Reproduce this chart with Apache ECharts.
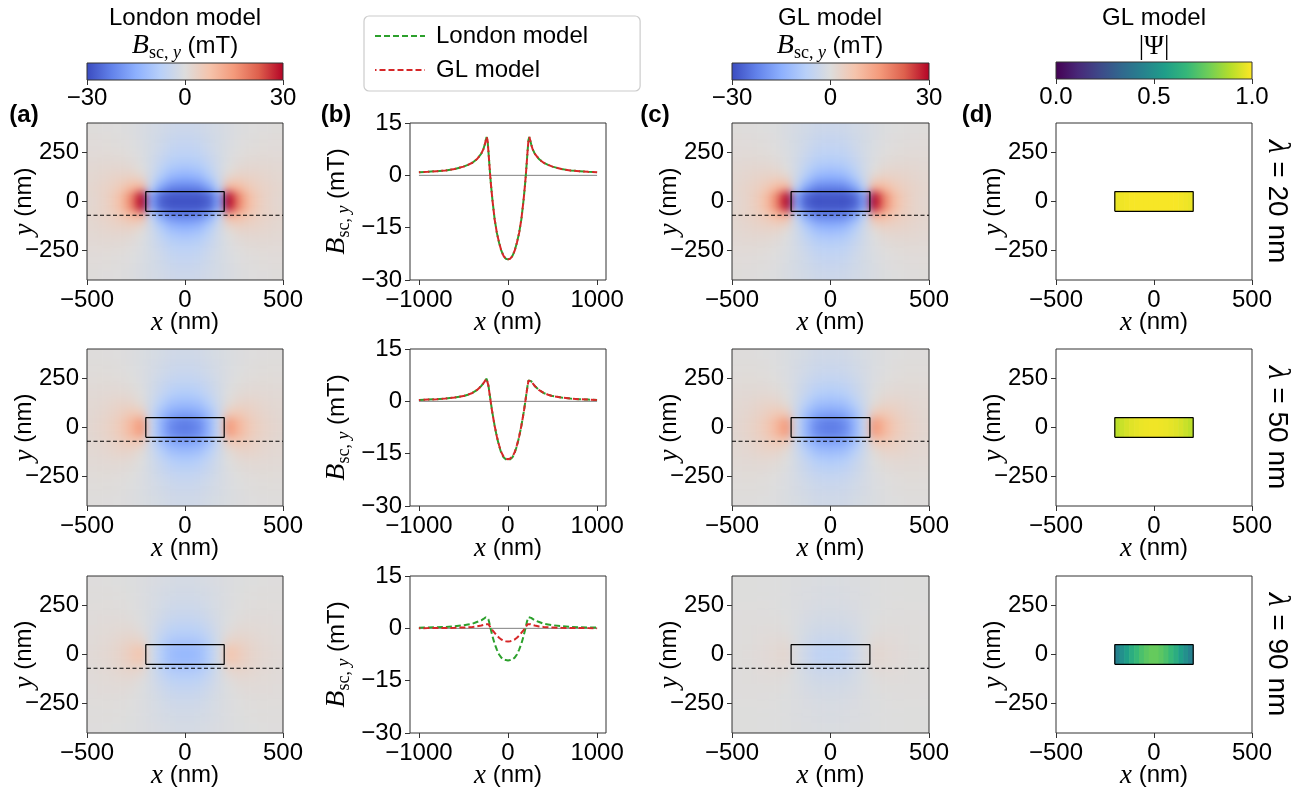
<!DOCTYPE html>
<html>
<head>
<meta charset="utf-8">
<script src="https://cdn.jsdelivr.net/npm/echarts@6/dist/echarts.min.js"></script>
<style>
  html, body { margin: 0; padding: 0; background: #fff; }
  #chart { width: 1305px; height: 791px; }
  /* the field maps live on their own layer (zlevel 1): soften the 50 nm cells
     into a continuous map and keep it inside the six plot frames */
  #chart canvas[data-zr-dom-id="zr_1"] {
    filter: blur(4px);
    clip-path: path('M87 123h196v157h-196Z M732 123h197v157h-197Z M87 349h196v157h-196Z M732 349h197v157h-197Z M87 576h196v157h-196Z M732 576h197v157h-197Z');
  }
</style>
</head>
<body>
<div id="chart"></div>
<script>
// ---------------- data ----------------
const lambdas = [20, 50, 90];             // penetration depth, nm
const stripX = [-200, 200];               // strip cross-section, nm
const stripY = [-50, 50];
const cutY = -70;                         // height of the line cut, nm

// Screening field B_sc,y (mT) on a 50 nm grid. The field is even in x and y,
// so one quadrant is listed: rows follow yCenters, columns follow xCenters.
const xCenters = [25, 75, 125, 175, 225, 275, 325, 375, 425, 475];
const yCenters = [25, 75, 125, 175, 225, 275, 325, 375];
const cellSize = 50;

const londonB20 = [
  [-29, -29, -27, -17, 30, 18, 9, 5, 3, 2],
  [-22, -21, -16, -6, 10, 9, 6, 4, 3, 2.2],
  [-15, -13.5, -9, -3, 2.5, 4, 3.5, 3, 2.3, 1.8],
  [-10, -9, -6, -2.5, 0, 1.5, 2, 2, 1.8, 1.5],
  [-7, -6.5, -4.5, -2.5, -0.5, 0.5, 1, 1.2, 1.2, 1.1],
  [-5.5, -5, -3.5, -2, -0.8, 0, 0.5, 0.7, 0.8, 0.8],
  [-4.5, -4, -3, -2, -1, -0.3, 0.2, 0.4, 0.5, 0.6],
  [-3.5, -3.2, -2.5, -1.8, -1, -0.4, 0, 0.2, 0.3, 0.4]
];
const londonB50 = [
  [-23, -21, -14, -4, 15, 10, 6, 4, 2.8, 2],
  [-17, -15.5, -11, -4, 5, 6, 4.5, 3.2, 2.3, 1.7],
  [-12, -11, -7.5, -3, 1, 2.8, 3, 2.5, 1.9, 1.5],
  [-8.5, -7.5, -5, -2.5, 0, 1.2, 1.6, 1.6, 1.4, 1.2],
  [-6, -5.5, -4, -2.2, -0.5, 0.4, 0.8, 1, 1, 0.9],
  [-4.5, -4, -3, -1.8, -0.7, 0, 0.4, 0.6, 0.7, 0.6],
  [-3.5, -3.2, -2.5, -1.6, -0.8, -0.2, 0.2, 0.4, 0.4, 0.45],
  [-2.8, -2.6, -2, -1.4, -0.8, -0.3, 0, 0.2, 0.3, 0.3]
];
const londonB90 = [
  [-13, -12, -8, -2, 7, 5, 3.2, 2.2, 1.5, 1.1],
  [-9.5, -8.8, -6, -2, 2.5, 3, 2.4, 1.7, 1.2, 0.9],
  [-7, -6.5, -4.5, -1.8, 0.5, 1.5, 1.6, 1.3, 1, 0.8],
  [-5, -4.7, -3.3, -1.6, -0.2, 0.6, 0.9, 0.9, 0.8, 0.65],
  [-3.7, -3.4, -2.5, -1.4, -0.4, 0.2, 0.5, 0.6, 0.6, 0.5],
  [-2.8, -2.6, -2, -1.2, -0.5, 0, 0.3, 0.4, 0.4, 0.4],
  [-2.2, -2, -1.6, -1, -0.5, -0.1, 0.1, 0.25, 0.3, 0.3],
  [-1.8, -1.6, -1.3, -0.9, -0.5, -0.15, 0, 0.15, 0.2, 0.2]
];
const glB20 = [
  [-29, -29, -27, -17, 30, 18, 9, 5, 3, 2],
  [-22, -21, -16, -6, 10, 9, 6, 4, 3, 2.2],
  [-15, -13.5, -9, -3, 2.5, 4, 3.5, 3, 2.3, 1.8],
  [-10, -9, -6, -2.5, 0, 1.5, 2, 2, 1.8, 1.5],
  [-7, -6.5, -4.5, -2.5, -0.5, 0.5, 1, 1.2, 1.2, 1.1],
  [-5.5, -5, -3.5, -2, -0.8, 0, 0.5, 0.7, 0.8, 0.8],
  [-4.5, -4, -3, -2, -1, -0.3, 0.2, 0.4, 0.5, 0.6],
  [-3.5, -3.2, -2.5, -1.8, -1, -0.4, 0, 0.2, 0.3, 0.4]
];
const glB50 = [
  [-23, -21, -14, -4, 15, 10, 6, 4, 2.8, 2],
  [-17, -15.5, -11, -4, 5, 6, 4.5, 3.2, 2.3, 1.7],
  [-12, -11, -7.5, -3, 1, 2.8, 3, 2.5, 1.9, 1.5],
  [-8.5, -7.5, -5, -2.5, 0, 1.2, 1.6, 1.6, 1.4, 1.2],
  [-6, -5.5, -4, -2.2, -0.5, 0.4, 0.8, 1, 1, 0.9],
  [-4.5, -4, -3, -1.8, -0.7, 0, 0.4, 0.6, 0.7, 0.6],
  [-3.5, -3.2, -2.5, -1.6, -0.8, -0.2, 0.2, 0.4, 0.4, 0.45],
  [-2.8, -2.6, -2, -1.4, -0.8, -0.3, 0, 0.2, 0.3, 0.3]
];
const glB90 = [
  [-6, -5.5, -3.5, -1, 2, 1.6, 1.1, 0.8, 0.6, 0.4],
  [-4, -3.7, -2.5, -0.8, 1, 1.1, 0.9, 0.6, 0.45, 0.35],
  [-3, -2.8, -2, -0.8, 0.2, 0.6, 0.6, 0.5, 0.4, 0.3],
  [-2.2, -2, -1.5, -0.7, -0.1, 0.25, 0.35, 0.35, 0.3, 0.25],
  [-1.6, -1.5, -1.1, -0.6, -0.2, 0.1, 0.2, 0.25, 0.25, 0.2],
  [-1.2, -1.1, -0.9, -0.5, -0.2, 0, 0.1, 0.15, 0.15, 0.15],
  [-1, -0.9, -0.7, -0.45, -0.2, -0.05, 0.05, 0.1, 0.1, 0.1],
  [-0.8, -0.7, -0.6, -0.4, -0.2, -0.05, 0, 0.05, 0.1, 0.1]
];

// Line cut B_sc,y(x) at y = cutY, listed for x <= 0 (the cut is even in x)
const cutHalfX = [-1000, -900, -800, -700, -600, -500, -450, -400, -350, -300, -275, -260, -250,
  -240, -230, -220, -210, -200, -190, -175, -150, -125, -100, -75, -50, -25, 0];
const londonCut20 = [0.9, 1.0, 1.2, 1.4, 1.8, 2.5, 3.0, 3.6, 4.6, 6.2, 7.6, 8.9, 10.0,
  11.0, 10.2, 7.0, 3.5, 0.0, -3.0, -7.0, -12.6, -16.5, -19.3, -21.6, -23.1, -23.9, -24.1];
const glCut20 = [0.9, 1.0, 1.2, 1.4, 1.8, 2.5, 3.0, 3.6, 4.6, 6.2, 7.6, 8.9, 10.0,
  11.0, 10.2, 7.0, 3.5, 0.0, -3.0, -7.0, -12.6, -16.5, -19.3, -21.6, -23.1, -23.9, -24.1];
const londonCut50 = [0.4, 0.5, 0.6, 0.8, 1.1, 1.5, 1.9, 2.4, 3.2, 4.4, 5.2, 5.8, 6.2,
  6.5, 6.0, 4.6, 2.8, 1.0, -0.8, -3.3, -7.0, -10.2, -12.8, -14.8, -16.0, -16.6, -16.8];
const glCut50 = [0.4, 0.5, 0.6, 0.8, 1.1, 1.5, 1.9, 2.4, 3.2, 4.4, 5.2, 5.8, 6.2,
  6.4, 5.9, 4.5, 2.7, 0.9, -0.9, -3.4, -7.0, -10.1, -12.6, -14.6, -15.8, -16.4, -16.6];
const londonCut90 = [0.2, 0.25, 0.3, 0.4, 0.6, 0.9, 1.1, 1.3, 1.8, 2.3, 2.7, 3.0, 3.2,
  3.4, 3.2, 2.6, 1.6, 0.4, -0.6, -2.2, -4.4, -6.1, -7.5, -8.4, -8.9, -9.1, -9.2];
const glCut90 = [0.05, 0.06, 0.08, 0.1, 0.15, 0.25, 0.3, 0.4, 0.55, 0.8, 0.95, 1.1, 1.2,
  1.25, 1.3, 1.2, 0.9, 0.4, 0.0, -0.5, -1.3, -2.1, -2.7, -3.2, -3.5, -3.7, -3.75];

// Order parameter |Psi| across the strip, 25 nm cells from x = -200 to 200
const psiEdges = [-200, -175, -150, -125, -100, -75, -50, -25, 0, 25, 50, 75, 100, 125, 150, 175, 200];
const psi20 = [0.97, 0.98, 0.985, 0.99, 0.99, 0.99, 0.99, 0.99, 0.99, 0.99, 0.99, 0.99, 0.99, 0.985, 0.98, 0.97];
const psi50 = [0.90, 0.92, 0.94, 0.955, 0.965, 0.972, 0.977, 0.98, 0.98, 0.977, 0.972, 0.965, 0.955, 0.94, 0.92, 0.90];
const psi90 = [0.44, 0.50, 0.56, 0.62, 0.67, 0.71, 0.74, 0.76, 0.76, 0.74, 0.71, 0.67, 0.62, 0.56, 0.50, 0.44];

// tick labels
const fieldXTicks = [-500, 0, 500];
const fieldYTicks = [-250, 0, 250];
const cutXTicks = [-1000, 0, 1000];
const cutYTicks = [-30, -15, 0, 15];
const bBarTicks = [-30, 0, 30];
const psiBarTicks = [0, 0.5, 1];

const londonFields = [londonB20, londonB50, londonB90];
const glFields = [glB20, glB50, glB90];
const londonCuts = [londonCut20, londonCut50, londonCut90];
const glCuts = [glCut20, glCut50, glCut90];
const psiRows = [psi20, psi50, psi90];

// ---------------- styling ----------------
const SANS = '"Liberation Sans", Arial, sans-serif';
const SERIF = '"Liberation Serif", "DejaVu Serif", serif';
const AX = '#333';
const FS = 24;
const coolwarm = ['#3b4cc0', '#6282ea', '#8db0fe', '#b8d0f9', '#dddddd', '#f5c4ac', '#f49a7b', '#de604d', '#b40426'];
const viridis = ['#440154', '#482878', '#3e4989', '#31688e', '#26828e', '#1f9e89', '#35b779', '#6ece58', '#b5de2b', '#fde725'];

const colLeft = [87, 410, 732, 1056];
const colWidth = [196, 196, 197, 196];
const rowTop = [123, 349, 576];
const plotH = 157;

// ---------------- helpers ----------------
const minus = v => (v < 0 ? '\u2212' : '') + Math.abs(v);

function fieldCells(q) {
  const out = [];
  q.forEach((row, j) => row.forEach((v, i) => {
    const xc = xCenters[i], yc = yCenters[j];
    [-1, 1].forEach(sx => [-1, 1].forEach(sy => {
      const cx = sx * xc, cy = sy * yc;
      out.push([cx - cellSize / 2, cx + cellSize / 2, cy - cellSize / 2, cy + cellSize / 2, v]);
    }));
  }));
  return out;
}
function psiCells(row) {
  return row.map((v, i) => [psiEdges[i], psiEdges[i + 1], stripY[0], stripY[1], v]);
}
function mirrored(halfX, halfV) {
  const pts = halfX.map((x, i) => [x, halfV[i]]);
  for (let i = halfX.length - 2; i >= 0; i--) pts.push([-halfX[i], halfV[i]]);
  return pts;
}
// field cell; cells on the frame are stretched past it so the softened
// layer stays solid right up to the frame (the layer is clipped to it)
function renderFieldCell(params, api) {
  const p0 = api.coord([api.value(0), api.value(2)]);
  const p1 = api.coord([api.value(1), api.value(3)]);
  const cs = params.coordSys;
  let x0 = Math.min(p0[0], p1[0]) - 0.3, x1 = Math.max(p0[0], p1[0]) + 0.3;
  let y0 = Math.min(p0[1], p1[1]) - 0.3, y1 = Math.max(p0[1], p1[1]) + 0.3;
  const pad = 14;
  if (x0 <= cs.x + 1) x0 -= pad;
  if (x1 >= cs.x + cs.width - 1) x1 += pad;
  if (y0 <= cs.y + 1) y0 -= pad;
  if (y1 >= cs.y + cs.height - 1) y1 += pad;
  return { type: 'rect', shape: { x: x0, y: y0, width: x1 - x0, height: y1 - y0 },
    style: { fill: api.visual('color') } };
}
function renderPsiCell(params, api) {
  const p0 = api.coord([api.value(0), api.value(2)]);
  const p1 = api.coord([api.value(1), api.value(3)]);
  const x = Math.min(p0[0], p1[0]), y = Math.min(p0[1], p1[1]);
  return { type: 'rect',
    shape: { x: x - 0.3, y, width: Math.abs(p1[0] - p0[0]) + 0.6, height: Math.abs(p1[1] - p0[1]) },
    style: { fill: api.visual('color') } };
}
function gradientBar(colors) {
  return function (params, api) {
    const p0 = api.coord([api.value(0), api.value(2)]);
    const p1 = api.coord([api.value(1), api.value(3)]);
    return {
      type: 'rect',
      shape: { x: p0[0], y: p1[1], width: p1[0] - p0[0], height: p0[1] - p1[1] },
      style: {
        fill: {
          type: 'linear', x: 0, y: 0, x2: 1, y2: 0,
          colorStops: colors.map((c, i) => ({ offset: i / (colors.length - 1), color: c }))
        }
      }
    };
  };
}
const stripOutline = [[stripX[0], stripY[0]], [stripX[1], stripY[0]], [stripX[1], stripY[1]], [stripX[0], stripY[1]], [stripX[0], stripY[0]]];

// ---------------- layout ----------------
const grids = [], xAxes = [], yAxes = [], series = [];
const heatIdx = [], psiIdx = [];

const labelStyle = { color: '#000', fontSize: FS, fontFamily: SANS };
const nameRich = { i: { fontFamily: SERIF, fontStyle: 'italic', fontSize: 27 } };
const nameStyle = { color: '#000', fontSize: FS, fontFamily: SANS, rich: nameRich };

function addGrid(left, top, width, height) {
  grids.push({ left, top, width, height, show: true, zlevel: 2, z: 5, borderColor: AX, borderWidth: 1,
    backgroundColor: 'transparent', containLabel: false, outerBoundsMode: 'none' });
  return grids.length - 1;
}
function xAxis(gi, min, max, ticks, opt) {
  xAxes.push(Object.assign({
    gridIndex: gi, type: 'value', min, max, position: 'bottom',
    splitLine: { show: false }, axisLine: { show: false, onZero: false },
    axisTick: { show: true, length: 5, lineStyle: { color: AX, width: 1 }, customValues: ticks },
    axisLabel: Object.assign({ margin: 8, customValues: ticks, formatter: minus }, labelStyle),
    name: '{i|x} (nm)', nameLocation: 'middle', nameGap: 29, nameMoveOverlap: false, nameTextStyle: nameStyle
  }, opt || {}));
}
function yAxis(gi, min, max, ticks, opt) {
  yAxes.push(Object.assign({
    gridIndex: gi, type: 'value', min, max, position: 'left',
    splitLine: { show: false }, axisLine: { show: false, onZero: false },
    axisTick: { show: true, length: 5, lineStyle: { color: AX, width: 1 }, customValues: ticks },
    axisLabel: Object.assign({ margin: 8, customValues: ticks, formatter: minus }, labelStyle),
    name: '{i|y} (nm)', nameLocation: 'middle', nameGap: 49, nameRotate: 90, nameMoveOverlap: false, nameTextStyle: nameStyle
  }, opt || {}));
}
const line = (gi, data, style, extra) => Object.assign({ type: 'line', xAxisIndex: gi, yAxisIndex: gi, data,
  symbol: 'none', showSymbol: false, silent: true, lineStyle: style }, extra || {});

for (let r = 0; r < 3; r++) {
  for (let c = 0; c < 4; c++) {
    const gi = addGrid(colLeft[c], rowTop[r], colWidth[c], plotH);
    if (c === 1) {
      xAxis(gi, -1100, 1100, cutXTicks);
      yAxis(gi, -30, 15, cutYTicks, { interval: 15, name: '' });
    } else {
      xAxis(gi, -500, 500, fieldXTicks);
      yAxis(gi, -400, 400, fieldYTicks);
    }
    if (c === 0 || c === 2) {
      const src = c === 0 ? londonFields[r] : glFields[r];
      heatIdx.push(series.length);
      series.push({ type: 'custom', xAxisIndex: gi, yAxisIndex: gi, renderItem: renderFieldCell,
        dimensions: ['x0', 'x1', 'y0', 'y1', 'B'], encode: { x: [0, 1], y: [2, 3] },
        data: fieldCells(src), silent: true, zlevel: 1, z: 1, clip: false });
      series.push(line(gi, [[-500, cutY], [500, cutY]], { color: '#000', width: 1.2, type: [4, 2.5] }, { zlevel: 2, z: 6 }));
      series.push(line(gi, stripOutline, { color: '#000', width: 1.2 }, { zlevel: 2, z: 7 }));
    } else if (c === 1) {
      series.push(line(gi, [[cutXTicks[0], 0], [cutXTicks[2], 0]], { color: '#808080', width: 1 }, { z: 2 }));
      series.push(line(gi, mirrored(cutHalfX, londonCuts[r]), { color: '#2ca02c', width: 2, type: [6, 3] },
        { name: 'London model', color: '#2ca02c', z: 3 }));
      series.push(line(gi, mirrored(cutHalfX, glCuts[r]), { color: '#d62728', width: 2, type: [6, 3], dashOffset: 4.5 },
        { name: 'GL model', color: '#d62728', z: 4 }));
    } else {
      psiIdx.push(series.length);
      series.push({ type: 'custom', xAxisIndex: gi, yAxisIndex: gi, renderItem: renderPsiCell,
        dimensions: ['x0', 'x1', 'y0', 'y1', 'psi'], encode: { x: [0, 1], y: [2, 3] },
        data: psiCells(psiRows[r]), silent: true, z: 1 });
      series.push(line(gi, stripOutline, { color: '#000', width: 1.2 }, { z: 4 }));
    }
  }
}

// colour bars
const bars = [
  { left: colLeft[0], width: colWidth[0], top: 63, ticks: bBarTicks, colors: coolwarm, fmt: minus },
  { left: colLeft[2], width: colWidth[2], top: 63, ticks: bBarTicks, colors: coolwarm, fmt: minus },
  { left: colLeft[3], width: colWidth[3], top: 62, ticks: psiBarTicks, colors: viridis, fmt: v => v.toFixed(1) }
];
bars.forEach(b => {
  const gi = addGrid(b.left, b.top, b.width, 17);
  const lo = b.ticks[0], hi = b.ticks[b.ticks.length - 1];
  xAxes.push({ gridIndex: gi, type: 'value', min: lo, max: hi, interval: (hi - lo) / 2, position: 'bottom',
    splitLine: { show: false }, axisLine: { show: false, onZero: false },
    axisTick: { show: true, length: 5, lineStyle: { color: AX } },
    axisLabel: Object.assign({ margin: 6, formatter: b.fmt }, labelStyle) });
  yAxes.push({ gridIndex: gi, type: 'value', min: 0, max: 1, show: false });
  series.push({ type: 'custom', xAxisIndex: gi, yAxisIndex: gi, renderItem: gradientBar(b.colors),
    data: [[lo, hi, 0, 1]], silent: true, z: 1 });
});

// ---------------- text ----------------
const bRich = {
  b: { fontFamily: SERIF, fontStyle: 'italic', fontSize: 28, lineHeight: 32, verticalAlign: 'middle' },
  s: { fontFamily: SERIF, fontSize: 18, lineHeight: 18, verticalAlign: 'bottom' },
  si: { fontFamily: SERIF, fontStyle: 'italic', fontSize: 18, lineHeight: 18, verticalAlign: 'bottom' },
  t: { fontFamily: SANS, fontSize: FS, lineHeight: 32, verticalAlign: 'middle' }
};
const bText = '{b|B}{s|sc,}{si| y}{t| (mT)}';
const graphics = [];
function txt(x, y, text, extra) {
  graphics.push({ type: 'text', x, y, silent: true,
    style: Object.assign({ text, fill: '#000', fontFamily: SANS, fontSize: FS, align: 'center', verticalAlign: 'middle' }, extra || {}) });
}
txt(185, 18, 'London model');
txt(185, 46, bText, { rich: bRich });
txt(830, 18, 'GL model');
txt(830, 46, bText, { rich: bRich });
txt(1154, 18, 'GL model');
txt(1154, 47, '|\u03A8|', { fontFamily: SERIF, fontSize: 27 });
['(a)', '(b)', '(c)', '(d)'].forEach((s, i) => {
  txt([24, 336, 655, 977][i], 115, s, { fontWeight: 'bold', fontSize: FS });
});
rowTop.forEach((t, r) => {
  graphics.push({ type: 'text', x: 337, y: t + plotH / 2, rotation: Math.PI / 2, silent: true,
    style: { text: bText, rich: bRich, fill: '#000', align: 'center', verticalAlign: 'middle' } });
  graphics.push({ type: 'text', x: 1277, y: t + plotH / 2, rotation: -Math.PI / 2, silent: true,
    style: { text: '{l|\u03BB}{t| = ' + lambdas[r] + ' nm}', fill: '#000', align: 'center', verticalAlign: 'middle',
      rich: { l: { fontFamily: SERIF, fontStyle: 'italic', fontSize: 32 }, t: { fontFamily: SANS, fontSize: 28 } } } });
});

const chart = echarts.init(document.getElementById('chart'), null, { renderer: 'canvas', width: 1305, height: 791 });
chart.setOption({
  animation: false,
  backgroundColor: '#fff',
  grid: grids,
  xAxis: xAxes,
  yAxis: yAxes,
  visualMap: [
    { type: 'continuous', show: false, min: -30, max: 30, dimension: 4, seriesIndex: heatIdx, inRange: { color: coolwarm } },
    { type: 'continuous', show: false, min: 0, max: 1, dimension: 4, seriesIndex: psiIdx, inRange: { color: viridis } }
  ],
  legend: {
    data: ['London model', 'GL model'], orient: 'vertical', left: 364, top: 16,
    itemWidth: 50, itemHeight: 14, itemGap: 10, padding: [8, 52, 9, 10],
    borderColor: '#cccccc', borderWidth: 1.2, borderRadius: 5,
    itemStyle: { opacity: 0 },
    textStyle: { color: '#000', fontSize: FS, fontFamily: SANS, padding: [0, 0, 0, 6] },
    selectedMode: false
  },
  series,
  graphic: graphics
});
</script>
</body>
</html>
